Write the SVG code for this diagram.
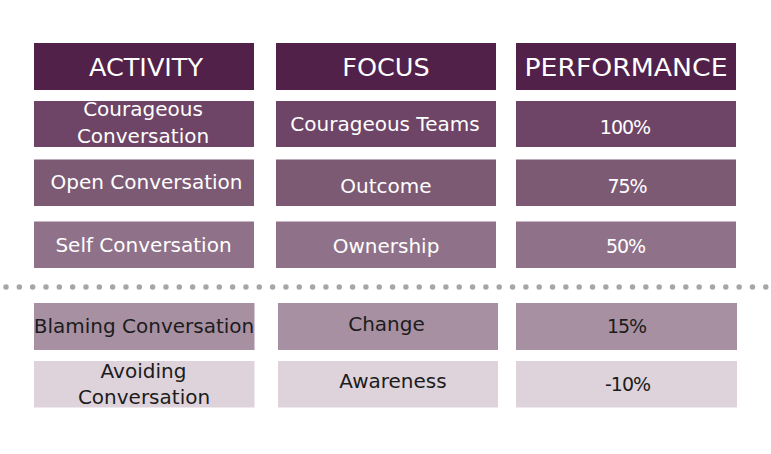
<svg xmlns="http://www.w3.org/2000/svg" width="771" height="454" viewBox="0 0 771 454">
<style>
text{font-family:"DejaVu Sans","Liberation Sans",sans-serif;text-anchor:middle}
.h{font-size:25.5px;fill:#ffffff}
.b{font-size:20px;fill:#ffffff}
.d{font-size:20px;fill:#1c1c1c}
.p{font-size:19px;letter-spacing:-1px}
.r0{fill:#52214a}
.r1{fill:#6e4566}
.r2{fill:#7d5a74}
.r3{fill:#8f7189}
.r4{fill:#a890a3}
.r5{fill:#ded3db}
</style>
<rect width="771" height="454" fill="#ffffff"/>
<g id="hdr-activity"><rect class="r0" x="34" y="43" width="220" height="47"/><text class="h" x="146" y="76">ACTIVITY</text></g>
<g id="hdr-focus"><rect class="r0" x="276" y="43" width="220" height="47"/><text class="h" x="386" y="75.5">FOCUS</text></g>
<g id="hdr-performance"><rect class="r0" x="516" y="43" width="220" height="47"/><text class="h" x="626" y="75.5" textLength="203" lengthAdjust="spacingAndGlyphs">PERFORMANCE</text></g>

<g id="r1-activity"><rect class="r1" x="34" y="101" width="220" height="46"/><text class="b" x="143" y="116">Courageous</text><text class="b" x="143" y="142.5">Conversation</text></g>
<g id="r1-focus"><rect class="r1" x="276" y="101" width="220" height="46"/><text class="b" x="385" y="130.5">Courageous Teams</text></g>
<g id="r1-performance"><rect class="r1" x="516" y="101" width="220" height="46"/><text class="b p" x="625" y="134">100%</text></g>

<g id="r2-activity"><rect class="r2" x="34" y="159.5" width="220" height="46.5"/><text class="b" x="146.5" y="189.3">Open Conversation</text></g>
<g id="r2-focus"><rect class="r2" x="276" y="159.5" width="220" height="46.5"/><text class="b" x="386" y="192.7">Outcome</text></g>
<g id="r2-performance"><rect class="r2" x="516" y="159.5" width="220" height="46.5"/><text class="b p" x="627" y="192.7">75%</text></g>

<g id="r3-activity"><rect class="r3" x="34" y="221.5" width="220" height="46.5"/><text class="b" x="143.5" y="251.7">Self Conversation</text></g>
<g id="r3-focus"><rect class="r3" x="276" y="221.5" width="220" height="46.5"/><text class="b" x="386" y="253.3">Ownership</text></g>
<g id="r3-performance"><rect class="r3" x="516" y="221.5" width="220" height="46.5"/><text class="b p" x="625.5" y="253.3">50%</text></g>

<g id="separator"><line x1="6" y1="287" x2="771" y2="287" stroke="#a6a6a6" stroke-width="5.5" stroke-linecap="round" stroke-dasharray="0 13.33"/></g>

<g id="r4-activity"><rect class="r4" x="34" y="303" width="220.5" height="47"/><text class="d" x="144" y="332.7">Blaming Conversation</text></g>
<g id="r4-focus"><rect class="r4" x="278" y="303" width="220" height="47"/><text class="d" x="386.5" y="330.7">Change</text></g>
<g id="r4-performance"><rect class="r4" x="516" y="303" width="221" height="47"/><text class="d p" x="626.5" y="333.3">15%</text></g>

<g id="r5-activity"><rect class="r5" x="34" y="361" width="220.5" height="46.5"/><text class="d" x="143.5" y="378.3">Avoiding</text><text class="d" x="144" y="404">Conversation</text></g>
<g id="r5-focus"><rect class="r5" x="278" y="361" width="220" height="46.5"/><text class="d" x="393" y="388.3">Awareness</text></g>
<g id="r5-performance"><rect class="r5" x="516" y="361" width="221" height="46.5"/><text class="d p" x="627.5" y="391">-10%</text></g>
</svg>
